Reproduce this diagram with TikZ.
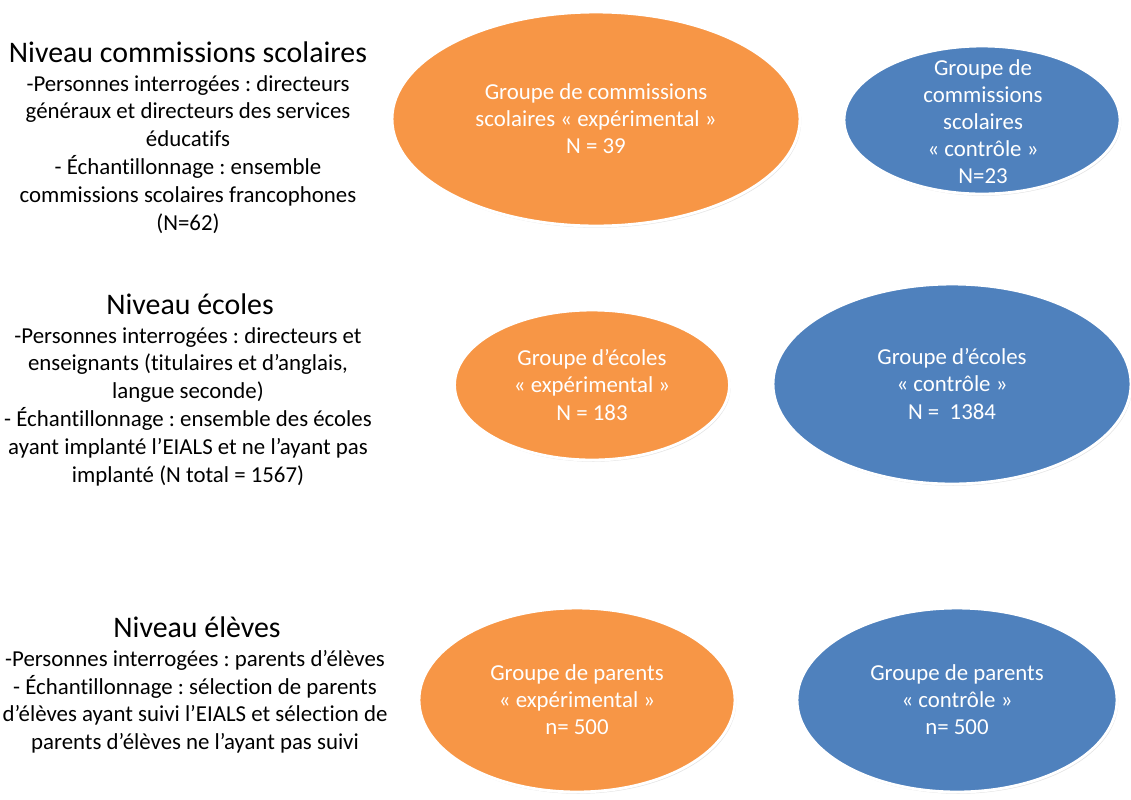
\documentclass[tikz,border=0pt]{standalone}
\usepackage{fontspec}
\setmainfont{Carlito}[Ligatures=NoCommon]
\usepackage{xcolor}
\usepackage{tikz}
\usetikzlibrary{shapes.geometric, shadows, positioning}
\frenchspacing

\definecolor{orangeexp}{HTML}{F79646}
\definecolor{bleuctrl}{HTML}{4F81BD}

\tikzset{
    groupe/.style={ellipse, draw=white, line width=1.6pt, inner sep=0pt,
        drop shadow={shadow xshift=0.7pt, shadow yshift=-1pt, opacity=0.22}},
    grexp/.style={groupe, fill=orangeexp},
    grctrl/.style={groupe, fill=bleuctrl},
    txtgroupe/.style={text=white, align=center, inner sep=0pt,
        font=\fontsize{13}{15.4}\selectfont},
    niveau/.style={inner sep=0pt, font=\fontsize{17}{20}\selectfont},
    detail/.style={inner sep=0pt, align=center, anchor=north,
        font=\fontsize{13}{15.8}\selectfont}
}

\begin{document}
\begin{tikzpicture}[x=0.02cm, y=-0.02cm]
                \useasboundingbox (0,0) rectangle (1131,799);

                % 1. Niveau commissions scolaires
                \node[niveau] (nivcs) at (188,52) {Niveau commissions scolaires};
                \node[detail] (detcs) at (188,75) {-Personnes interrogées : directeurs\\
                    généraux et directeurs des services\\ éducatifs\\
                    - Échantillonnage : ensemble\\
                    commissions scolaires francophones\\ (N=62)};
                \node[grexp, minimum width=8.16cm, minimum height=4.28cm] (csexp) at (596,119) {};
                \node[txtgroupe] at (csexp) {Groupe de commissions\\
                    scolaires « expérimental »\\ N = 39};
                \node[grctrl, minimum width=5.52cm, minimum height=2.96cm] (csctrl) at (982,120) {};
                \node[txtgroupe] at (983,122) {Groupe de\\ commissions\\ scolaires\\
                    « contrôle »\\ N=23};

                % 2. Niveau écoles
                \node[niveau] (nivec) at (190,304) {Niveau écoles};
                \node[detail] (detec) at (188,327) {-Personnes interrogées : directeurs et\\
                    enseignants (titulaires et d’anglais,\\ langue seconde)\\
                    - Échantillonnage : ensemble des écoles\\
                    ayant implanté l’EIALS et ne l’ayant pas\\
                    implanté (N total = 1567)};
                \node[grexp, minimum width=5.5cm, minimum height=3.0cm] (ecexp) at (592,385) {};
                \node[txtgroupe] at (ecexp) {Groupe d’écoles\\ « expérimental »\\ N = 183};
                \node[grctrl, minimum width=7.16cm, minimum height=4.0cm] (ecctrl) at (952,384) {};
                \node[txtgroupe] at (ecctrl) {Groupe d’écoles\\ « contrôle »\\ N =~~1384};

                % 3. Niveau élèves
                \node[niveau] (nivel) at (197,627) {Niveau élèves};
                \node[detail] (detel) at (195,650) {-Personnes interrogées : parents d’élèves\\
                    - Échantillonnage : sélection de parents\\
                    d’élèves ayant suivi l’EIALS et sélection de\\
                    parents d’élèves ne l’ayant pas suivi};
                \node[grexp, minimum width=6.32cm, minimum height=3.68cm] (elexp) at (577,700) {};
                \node[txtgroupe] at (elexp) {Groupe de parents\\ « expérimental »\\ n= 500};
                \node[grctrl, minimum width=6.4cm, minimum height=3.68cm] (elctrl) at (957,700) {};
                \node[txtgroupe] at (elctrl) {Groupe de parents\\ « contrôle »\\ n= 500};
\end{tikzpicture}
\end{document}
